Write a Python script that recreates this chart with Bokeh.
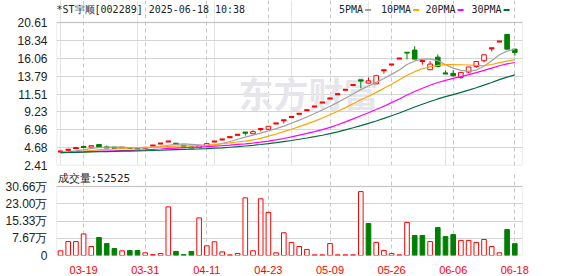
import numpy as np
from bokeh.plotting import figure
from bokeh.layouts import column
from bokeh.models import (Range1d, FixedTicker, Label, Grid, ColumnDataSource, BoxAnnotation,
                          PrintfTickFormatter, CustomJSTickFormatter)
from bokeh.embed import file_html
from bokeh.resources import INLINE

# ---------------- data ----------------
stock_title = "*ST宇顺[002289] 2025-06-18 10:38"

opens = [4.18, 4.41, 4.55, 4.80, 4.76, 5.08, 4.74, 4.72, 4.64, 4.68,
         4.64, 4.60, 4.95, 5.20, 5.46, 5.20, 4.94, 4.71, 4.70, 4.92,
         5.46, 5.73, 6.02, 6.32, 6.64, 6.45, 7.02, 7.02, 7.77, 8.14,
         8.57, 9.00, 9.45, 9.92, 10.42, 10.94, 11.49, 12.06, 12.66, 13.29,
         12.90, 12.80, 14.50, 15.26, 16.02, 16.82, 17.10, 15.66, 14.60, 16.20,
         14.14, 14.13, 13.62, 14.30, 15.00, 15.74, 17.28, 18.19, 19.10, 17.22]
highs = [4.30, 4.41, 4.63, 4.95, 4.96, 5.10, 4.95, 4.76, 4.72, 4.70,
         4.66, 4.72, 4.95, 5.20, 5.46, 5.20, 4.94, 4.71, 4.95, 5.20,
         5.46, 5.73, 6.02, 6.32, 6.64, 6.88, 7.06, 7.41, 7.77, 8.16,
         8.57, 9.00, 9.45, 9.92, 10.42, 10.94, 11.49, 12.06, 12.66, 13.29,
         13.62, 13.95, 14.53, 15.26, 16.02, 16.82, 17.60, 15.70, 15.70, 16.55,
         14.50, 14.56, 14.30, 14.95, 15.65, 16.50, 17.32, 18.19, 19.10, 17.25]
lows = [4.10, 4.41, 4.52, 4.60, 4.72, 4.72, 4.66, 4.64, 4.60, 4.60,
        4.56, 4.58, 4.95, 5.20, 5.46, 5.19, 4.93, 4.70, 4.68, 4.86,
        5.46, 5.73, 6.02, 6.32, 6.22, 6.43, 6.75, 6.98, 7.77, 7.75,
        8.57, 9.00, 9.45, 9.92, 10.42, 10.94, 11.49, 12.06, 12.66, 12.22,
        12.85, 12.78, 14.10, 15.26, 16.02, 15.90, 15.90, 15.24, 14.58, 14.90,
        14.10, 13.70, 13.45, 14.20, 14.85, 15.53, 16.93, 18.19, 17.20, 16.38]
closes = [4.20, 4.41, 4.63, 4.78, 4.93, 4.73, 4.70, 4.66, 4.68, 4.64,
          4.60, 4.72, 4.95, 5.20, 5.46, 5.19, 4.93, 4.70, 4.95, 5.20,
          5.46, 5.73, 6.02, 6.32, 6.58, 6.72, 7.06, 7.40, 7.77, 8.16,
          8.57, 9.00, 9.45, 9.92, 10.42, 10.94, 11.49, 12.06, 12.66, 13.22,
          13.18, 13.84, 14.53, 15.26, 16.02, 16.72, 15.95, 15.70, 15.32, 15.00,
          14.12, 13.84, 14.26, 14.95, 15.65, 16.50, 17.32, 18.19, 17.22, 16.80]

# volume in 万手
volumes = [2.07, 6.2, 6.2, 9.6, 4.0, 8.0, 5.3, 3.1, 2.07, 2.2,
           2.2, 1.2, 0.4, 0.9, 21.6, 1.8, 0.4, 1.8, 16.7, 4.3,
           6.1, 1.6, 0.3, 0.9, 25.6, 2.1, 25.2, 19.1, 1.2, 10.1,
           5.8, 4.0, 2.7, 0.3, 0.3, 5.3, 0.3, 0.3, 0.3, 28.4,
           14.2, 5.8, 2.2, 0.9, 0.3, 14.7, 8.9, 8.9, 6.2, 12.4,
           8.4, 9.3, 6.7, 6.7, 5.8, 7.1, 4.0, 1.2, 11.5, 5.2525]
# 1 = up day (red), 0 = down day (green)
volume_up = [1, 1, 1, 1, 1, 0, 0, 0, 1, 0,
             0, 1, 1, 1, 1, 0, 0, 0, 1, 1,
             1, 1, 1, 1, 1, 1, 1, 1, 1, 1,
             1, 1, 1, 1, 1, 1, 1, 1, 1, 1,
             0, 1, 1, 1, 1, 1, 0, 0, 1, 0,
             0, 0, 1, 1, 1, 1, 1, 1, 0, 0]

ma5 = [4.08, 4.15, 4.27, 4.41, 4.59, 4.70, 4.75, 4.76, 4.74, 4.68,
       4.66, 4.66, 4.72, 4.82, 4.99, 5.10, 5.15, 5.10, 5.05, 4.99,
       5.05, 5.21, 5.47, 5.75, 6.02, 6.27, 6.53, 6.81, 7.10, 7.42,
       7.79, 8.18, 8.59, 9.02, 9.47, 9.95, 10.44, 10.97, 11.51, 12.07,
       12.52, 12.99, 13.49, 14.01, 14.57, 15.27, 15.72, 15.95, 15.96, 15.76,
       15.24, 14.80, 14.51, 14.43, 14.56, 15.04, 15.73, 16.51, 16.97, 17.20]
ma10 = [4.07, 4.10, 4.16, 4.23, 4.32, 4.39, 4.45, 4.51, 4.58, 4.64,
        4.68, 4.71, 4.74, 4.78, 4.83, 4.88, 4.90, 4.91, 4.93, 4.99,
        5.08, 5.18, 5.28, 5.40, 5.51, 5.66, 5.87, 6.14, 6.42, 6.72,
        7.03, 7.36, 7.70, 8.06, 8.45, 8.87, 9.31, 9.78, 10.27, 10.77,
        11.23, 11.72, 12.23, 12.76, 13.32, 13.90, 14.35, 14.72, 14.98, 15.16,
        15.26, 15.26, 15.23, 15.20, 15.16, 15.14, 15.26, 15.51, 15.70, 15.88]
ma20 = [4.06, 4.08, 4.10, 4.14, 4.19, 4.22, 4.25, 4.28, 4.31, 4.34,
        4.37, 4.40, 4.45, 4.51, 4.58, 4.63, 4.68, 4.71, 4.76, 4.81,
        4.88, 4.94, 5.01, 5.09, 5.17, 5.27, 5.39, 5.52, 5.68, 5.85,
        6.05, 6.27, 6.49, 6.73, 6.98, 7.26, 7.59, 7.96, 8.35, 8.75,
        9.13, 9.54, 9.96, 10.41, 10.88, 11.38, 11.83, 12.25, 12.63, 12.97,
        13.25, 13.49, 13.73, 13.98, 14.24, 14.52, 14.81, 15.11, 15.34, 15.52]
ma30 = [4.06, 4.07, 4.09, 4.11, 4.14, 4.16, 4.18, 4.20, 4.23, 4.25,
        4.26, 4.29, 4.32, 4.35, 4.40, 4.44, 4.47, 4.49, 4.52, 4.56,
        4.61, 4.66, 4.73, 4.80, 4.89, 4.98, 5.08, 5.19, 5.31, 5.45,
        5.59, 5.75, 5.91, 6.08, 6.26, 6.47, 6.70, 6.94, 7.21, 7.49,
        7.78, 8.08, 8.40, 8.74, 9.09, 9.48, 9.85, 10.21, 10.56, 10.88,
        11.17, 11.44, 11.72, 12.01, 12.31, 12.64, 12.98, 13.34, 13.65, 13.94]
ma_names = ["5PMA", "10PMA", "20PMA", "30PMA"]

date_labels = ["03-19", "03-31", "04-11", "04-23", "05-09", "05-26", "06-06", "06-18"]
date_bars = [3, 11, 19, 27, 35, 43, 51, 59]   # bar number carrying each date label

price_ticks = [2.41, 4.68, 6.96, 9.23, 11.51, 13.79, 16.06, 18.34, 20.61]
volume_ticks = [0, 7.67, 15.33, 23.00, 30.66]

# ---------------- style / layout ----------------
RED = "#ff0000"
GREEN = "#008000"
MA_COLORS = ["#a0a0a0", "#ffa500", "#ff00ff", "#006b3c"]
GRID = "#d4d4d4"
VGRID = "#c8c8c8"
FRAME = "#a0a0a0"
TXT = "#222222"
MONO = "DejaVu Sans Mono"
SANS = "Liberation Sans"

W = 578
LEFT, RIGHT = 56, 522          # plot area, page pixels
TOP1, BOT1 = 22, 165           # price panel box
H1 = 172                       # height of price figure (frame from page y 0)
TOP2, BOT2 = 186, 255          # volume panel box
H2 = 276 - H1

n = len(closes)
idx = np.arange(n)
x_range = Range1d(-0.52, n + 0.0)

o = np.array(opens); h = np.array(highs); l = np.array(lows); c = np.array(closes)
up = c >= o
body_top = np.maximum(o, c)
body_bot = np.minimum(o, c)
ccol = np.where(up, RED, GREEN)
cfill = np.where(up, "white", GREEN)

def px_to_x(px):
    return x_range.start + (px - LEFT) / (RIGHT - LEFT) * (x_range.end - x_range.start)

p_lo, p_hi = price_ticks[0], price_ticks[-1]
p_scale = (p_hi - p_lo) / (BOT1 - TOP1)          # price units per pixel
def py1(py):
    return p_lo + (BOT1 - py) * p_scale

v_hi = volume_ticks[-1]
v_scale = v_hi / (BOT2 - TOP2)
def py2(py):
    return (BOT2 - py) * v_scale

def style_panel(p, lo, hi):
    ax = p.yaxis[0]
    ax.axis_line_color = None
    ax.major_tick_line_color = None
    ax.minor_tick_line_color = None
    ax.major_label_standoff = 3
    ax.major_label_text_font = SANS
    ax.major_label_text_font_size = "12px"
    ax.major_label_text_color = TXT
    p.ygrid.grid_line_color = GRID
    p.outline_line_color = None
    p.background_fill_color = "white"
    p.border_fill_color = "white"
    p.add_layout(BoxAnnotation(left=x_range.start, right=x_range.end, bottom=lo, top=hi,
                               fill_alpha=0, line_color=FRAME, line_width=1.3))

# ---------------- price panel ----------------
p1 = figure(width=W, height=H1, x_range=x_range, y_range=Range1d(p_lo, py1(0)),
            output_backend="svg", toolbar_location=None, x_axis_location=None,
            min_border_left=LEFT, min_border_right=W - RIGHT,
            min_border_top=0, min_border_bottom=H1 - BOT1)
p1.yaxis.ticker = FixedTicker(ticks=price_ticks)
p1.yaxis.formatter = PrintfTickFormatter(format="%.2f")
p1.ygrid.bounds = (x_range.start, x_range.end)
p1.add_layout(Grid(dimension=0, ticker=FixedTicker(ticks=date_bars), bounds=(p_lo, p_hi),
                   grid_line_color=VGRID, grid_line_dash="4 3"))
style_panel(p1, p_lo, p_hi)

# watermark
p1.add_layout(Label(x=px_to_x(238), y=py1(92), text="东方财富", text_font="Noto Sans CJK SC",
                    text_font_size="35px", text_font_style="bold", text_color="#e6e6ea",
                    text_baseline="middle", text_align="left", level="underlay"))

src = ColumnDataSource(dict(x=idx, top=body_top, bottom=body_bot, high=h, low=l,
                            color=ccol, fill=cfill))
p1.segment(x0="x", y0="low", x1="x", y1="high", line_color="color", line_width=1, source=src)
p1.vbar(x="x", width=0.6, top="top", bottom="bottom", fill_color="fill",
        line_color="color", line_width=1, source=src)
flat = (body_top - body_bot) < 0.1
p1.segment(x0=idx[flat] - 0.33, x1=idx[flat] + 0.33, y0=c[flat], y1=c[flat],
           line_color=list(ccol[flat]), line_width=2)

for series, col in zip([ma5, ma10, ma20, ma30], MA_COLORS):
    p1.line(idx, series, line_color=col, line_width=1.2)

# title
p1.add_layout(Label(x=px_to_x(56), y=py1(9), text=stock_title, text_font=MONO,
                    text_font_size="10px", text_color=TXT, text_baseline="middle"))
# legend (text followed by a colour swatch)
legend_text_px = [338.5, 380.5, 425, 471]
for name, col, tx in zip(ma_names, MA_COLORS, legend_text_px):
    p1.add_layout(Label(x=px_to_x(tx), y=py1(9), text=name, text_font=MONO,
                        text_font_size="10px", text_color=TXT, text_baseline="middle"))
    sx = tx + 6.02 * len(name) + 2
    p1.segment(x0=[px_to_x(sx)], x1=[px_to_x(sx + 6)], y0=[py1(9.5)], y1=[py1(9.5)],
               line_color=col, line_width=2)

# ---------------- volume panel ----------------
p2 = figure(width=W, height=H2, x_range=x_range, y_range=Range1d(0, py2(H1)),
            output_backend="svg", toolbar_location=None,
            min_border_left=LEFT, min_border_right=W - RIGHT,
            min_border_top=0, min_border_bottom=276 - BOT2)
p2.yaxis.ticker = FixedTicker(ticks=volume_ticks)
p2.yaxis.formatter = CustomJSTickFormatter(code="return tick == 0 ? '0' : tick.toFixed(2) + '万';")
xa = p2.xaxis[0]
xa.ticker = FixedTicker(ticks=date_bars)
xa.formatter = CustomJSTickFormatter(args=dict(bars=date_bars, labels=date_labels),
                                     code="const k = bars.indexOf(Math.round(tick)); return k >= 0 ? labels[k] : '';")
xa.axis_line_color = None
xa.major_tick_line_color = None
xa.minor_tick_line_color = None
xa.major_label_standoff = 4
xa.major_label_text_font = SANS
xa.major_label_text_font_size = "11px"
xa.major_label_text_color = RED
p2.xgrid.grid_line_color = VGRID
p2.xgrid.grid_line_dash = "4 3"
p2.xgrid.bounds = (0, v_hi)
style_panel(p2, 0, v_hi)

vu = np.array(volume_up).astype(bool)
vsrc = ColumnDataSource(dict(x=idx, top=volumes,
                             fill=np.where(vu, "white", GREEN),
                             line=np.where(vu, RED, GREEN)))
p2.vbar(x="x", width=0.6, top="top", bottom=0, fill_color="fill", line_color="line",
        line_width=1, source=vsrc)

p2.add_layout(Label(x=px_to_x(57), y=py2(178), text="成交量:%d" % round(volumes[-1] * 10000),
                    text_font=MONO, text_font_size="11px", text_color=TXT, text_baseline="middle"))

layout = column(p1, p2, spacing=0)
open("out.html", "w").write(file_html(layout, INLINE))
